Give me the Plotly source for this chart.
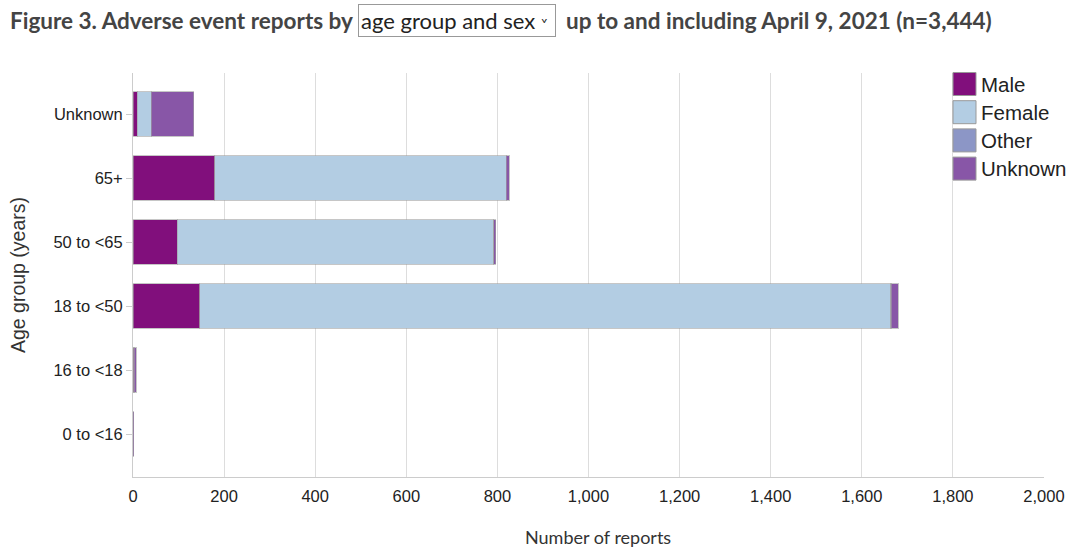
import plotly.graph_objects as go

age_groups = ["0 to <16", "16 to <18", "18 to <50", "50 to <65", "65+", "Unknown"]
male = [0, 2, 147, 97, 180, 9]
female = [0, 1, 1517, 695, 639, 31]
other = [0, 0, 1, 0, 0, 0]
unknown = [2, 4, 15, 4, 7, 93]
series_names = ["Male", "Female", "Other", "Unknown"]
colors = ["#810f7c", "#b3cde3", "#8c96c6", "#8856a7"]
x_ticks = [0, 200, 400, 600, 800, 1000, 1200, 1400, 1600, 1800, 2000]

L, R, T, B = 133, 36, 73, 72
PW, PH = 1080 - L - R, 549 - T - B

def px(x):
    return (x - L) / PW

def py(y):
    return 1 - (y - T) / PH

fig = go.Figure()
for name, vals, col in zip(series_names, [male, female, other, unknown], colors):
    fig.add_trace(go.Bar(
        y=age_groups, x=vals, name=name, orientation="h",
        marker=dict(color=col, line=dict(color="rgba(160,160,160,0.6)", width=1)),
        showlegend=False,
    ))

fig.update_layout(
    barmode="stack",
    bargap=0.31,
    width=1080, height=549,
    margin=dict(l=L, r=R, t=T, b=B),
    plot_bgcolor="white", paper_bgcolor="white",
    font=dict(family="Liberation Sans, Arial, sans-serif", color="#333333", size=16),
    xaxis=dict(
        range=[0, 2000], tickvals=x_ticks, tickformat=",d",
        showgrid=True, gridcolor="#dddddd", gridwidth=1,
        zeroline=False, showline=True, linecolor="#cccccc", linewidth=1,
        automargin=False,
        ticks="outside", ticklen=4, tickcolor="rgba(0,0,0,0)",
        tickfont=dict(size=16.5, color="#222222"),
    ),
    yaxis=dict(
        categoryorder="array", categoryarray=age_groups, automargin=False,
        range=[-0.5 - 11 / 64, 5.5 + 9 / 64],
        showline=True, linecolor="#cccccc", linewidth=1,
        ticks="outside", ticklen=6, tickcolor="#cccccc",
        tickfont=dict(size=16.5, color="#222222"),
        title=dict(text="Age group (years)", font=dict(size=19.5, color="#333333"), standoff=22),
    ),
)

# X-axis title
fig.add_annotation(xref="paper", yref="paper", x=px(598), y=py(537),
                   xanchor="center", yanchor="middle", showarrow=False,
                   text="Number of reports",
                   font=dict(family="Lato, sans-serif", size=18, color="#333333"))

# Title pieces
title_font = dict(family="Lato, sans-serif", size=22.5, color="#444444")
ty = py(20)
fig.add_annotation(xref="paper", yref="paper", x=px(8), y=ty,
                   xanchor="left", yanchor="middle", showarrow=False,
                   text="<b>Figure 3. Adverse event reports by</b>", font=title_font)
fig.add_annotation(xref="paper", yref="paper", x=px(358), y=ty,
                   xanchor="left", yanchor="middle", showarrow=False,
                   text="age group and sex <span style='font-size:14px'>˅</span> ",
                   font=dict(family="Lato, sans-serif", size=22, color="#222222"),
                   bordercolor="#999999", borderwidth=1, borderpad=2, bgcolor="white")
fig.add_annotation(xref="paper", yref="paper", x=px(564), y=ty,
                   xanchor="left", yanchor="middle", showarrow=False,
                   text="<b>up to and including April 9, 2021 (n=3,444)</b>", font=title_font)

# Legend (custom)
for i, (name, col) in enumerate(zip(series_names, colors)):
    top = 72.5 + i * 28.2
    fig.add_shape(type="rect", xref="paper", yref="paper",
                  x0=px(953), x1=px(976),
                  y0=py(top + 23), y1=py(top),
                  fillcolor=col, line=dict(color="#999999", width=1), layer="above")
    fig.add_annotation(xref="paper", yref="paper", x=px(979), y=py(top + 11.5),
                       xanchor="left", yanchor="middle", showarrow=False,
                       text=name, font=dict(size=20.5, color="#222222"), bgcolor="white")

fig.write_html("out.html", config={"displayModeBar": False},
               post_script="document.body.style.margin='0';document.body.style.overflow='hidden';")
